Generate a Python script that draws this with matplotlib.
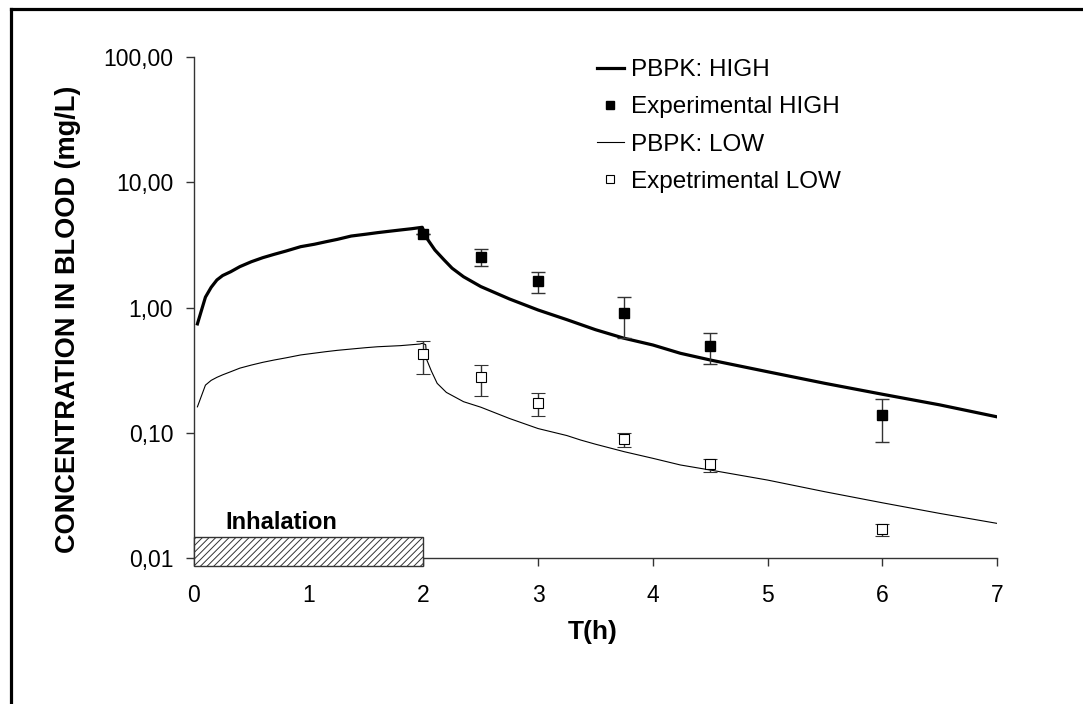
import matplotlib.pyplot as plt
from matplotlib.lines import Line2D
from matplotlib.patches import Rectangle

plt.rcParams['font.family'] = ['Liberation Sans', 'DejaVu Sans']
plt.rcParams['hatch.linewidth'] = 0.7

# PBPK model curves
t_high = [0.03, 0.1, 0.15, 0.2, 0.25, 0.32, 0.4, 0.5, 0.6, 0.7, 0.8, 0.93, 1.05,
          1.15, 1.25, 1.37, 1.5, 1.6, 1.7, 1.8, 1.9, 1.99,
          2.03, 2.1, 2.18, 2.25, 2.35, 2.5, 2.75, 3.0, 3.25, 3.5, 3.75, 4.0, 4.24,
          4.5, 5.0, 5.5, 6.0, 6.5, 7.0]
c_high = [0.74, 1.21, 1.45, 1.66, 1.80, 1.93, 2.12, 2.32, 2.5, 2.66, 2.82, 3.06, 3.2,
          3.35, 3.5, 3.72, 3.85, 3.96, 4.06, 4.16, 4.26, 4.37,
          3.57, 2.88, 2.4, 2.06, 1.76, 1.47, 1.17, 0.955, 0.8, 0.665, 0.568, 0.502, 0.431,
          0.381, 0.307, 0.248, 0.203, 0.167, 0.134]

t_low = [0.03, 0.1, 0.15, 0.2, 0.25, 0.32, 0.4, 0.5, 0.6, 0.7, 0.8, 0.93, 1.05,
         1.15, 1.25, 1.37, 1.5, 1.6, 1.8, 1.97,
         1.99, 2.02, 2.03, 2.07, 2.12, 2.2, 2.35, 2.5, 2.75, 3.0, 3.25, 3.37, 3.5,
         3.75, 4.0, 4.24, 4.5, 5.0, 5.5, 6.0, 6.5, 7.0]
c_low = [0.161, 0.24, 0.262, 0.277, 0.29, 0.307, 0.328, 0.347, 0.365, 0.381, 0.396, 0.418, 0.432,
         0.444, 0.455, 0.466, 0.478, 0.486, 0.496, 0.511,
         0.518, 0.505, 0.381, 0.31, 0.248, 0.21, 0.177, 0.16, 0.13, 0.108, 0.095, 0.0875, 0.081,
         0.0706, 0.0625, 0.0553, 0.0504, 0.0419, 0.0338, 0.0276, 0.0227, 0.0189]

# experimental points with error bar ends
t_exp = [2.0, 2.5, 3.0, 3.75, 4.5, 6.0]
exp_high = [3.86, 2.55, 1.64, 0.899, 0.493, 0.139]
exp_high_lo = [3.86, 2.16, 1.31, 0.568, 0.352, 0.0849]
exp_high_hi = [3.86, 2.93, 1.92, 1.22, 0.629, 0.187]
exp_low = [0.425, 0.280, 0.172, 0.0891, 0.056, 0.0171]
exp_low_lo = [0.296, 0.198, 0.137, 0.0765, 0.0489, 0.015]
exp_low_hi = [0.543, 0.349, 0.206, 0.100, 0.062, 0.0188]

y_ticks = [0.01, 0.1, 1, 10, 100]
y_ticklabels = ['0,01', '0,10', '1,00', '10,00', '100,00']
x_ticks = [0, 1, 2, 3, 4, 5, 6, 7]

inhal_start, inhal_end = 0, 2
inhal_bottom, inhal_top = 0.00868, 0.0148

fig = plt.figure(figsize=(10.83, 7.04), dpi=100)
ax = fig.add_axes([0.1791, 0.2074, 0.7415, 0.7116])

ax.plot(t_high, c_high, color='black', lw=2.3)
yerr_h = [[v - lo for v, lo in zip(exp_high, exp_high_lo)],
          [hi - v for v, hi in zip(exp_high, exp_high_hi)]]
ax.errorbar(t_exp, exp_high, yerr=yerr_h, fmt='s', color='black', ms=7,
            ecolor='#333333', elinewidth=1, capsize=5, capthick=1, zorder=3)
ax.plot(t_low, c_low, color='black', lw=0.8)
yerr_l = [[v - lo for v, lo in zip(exp_low, exp_low_lo)],
          [hi - v for v, hi in zip(exp_low, exp_low_hi)]]
ax.errorbar(t_exp, exp_low, yerr=yerr_l, fmt='s', mfc='white', mec='black',
            mew=0.8, ms=7, ecolor='#333333', elinewidth=1, capsize=5,
            capthick=1, zorder=3)

# inhalation period bar
bar = Rectangle((inhal_start, inhal_bottom), inhal_end - inhal_start,
                inhal_top - inhal_bottom, facecolor='white', edgecolor='#333333',
                hatch='/////', lw=1, clip_on=False, zorder=4)
ax.add_patch(bar)
ax.text(0.27, 0.01704, 'Inhalation', fontsize=17, fontweight='bold',
        va='baseline', ha='left')

ax.set_yscale('log')
ax.set_xlim(0, 7)
ax.set_ylim(0.01, 100)
ax.set_yticks(y_ticks)
ax.set_yticklabels(y_ticklabels)
ax.minorticks_off()
ax.set_xticks(x_ticks)

for side in ['top', 'right']:
    ax.spines[side].set_visible(False)
for side in ['left', 'bottom']:
    ax.spines[side].set_color('#333333')
    ax.spines[side].set_linewidth(1)
ax.tick_params(axis='both', direction='out', length=6, width=1,
               color='#333333', labelsize=16.5)
ax.tick_params(axis='y', pad=9)
ax.tick_params(axis='x', pad=13)

ax.set_ylabel('CONCENTRATION IN BLOOD (mg/L)', fontsize=19.5,
              fontweight='bold', va='center')
ax.yaxis.set_label_coords(-0.157, 0.477)
ax.set_xlabel('T(h)', fontsize=19, fontweight='bold', va='center')
ax.xaxis.set_label_coords(0.496, -0.148)

handles = [
    Line2D([], [], color='black', lw=2.3),
    Line2D([], [], ls='none', marker='s', color='black', ms=5.5),
    Line2D([], [], color='black', lw=0.8),
    Line2D([], [], ls='none', marker='s', mfc='white', mec='black', mew=0.8, ms=5.5),
]
labels = ['PBPK: HIGH', 'Experimental HIGH', 'PBPK: LOW', 'Expetrimental LOW']
ax.legend(handles, labels, loc='upper left',
          bbox_to_anchor=(597 / 1083, 1 - 59 / 704),
          bbox_transform=fig.transFigure, frameon=False, fontsize=17.5,
          borderpad=0, borderaxespad=0, handlelength=1.1, handletextpad=0.3,
          labelspacing=0.63)

# outer frame (top and left edges only)
fig.add_artist(Line2D([11 / 1083, 1], [1 - 8.7 / 704, 1 - 8.7 / 704],
                      color='black', lw=2.3, transform=fig.transFigure))
fig.add_artist(Line2D([11 / 1083, 11 / 1083], [0, 1 - 8.7 / 704],
                      color='black', lw=2.3, transform=fig.transFigure))

fig.savefig('out.png', dpi=100)
